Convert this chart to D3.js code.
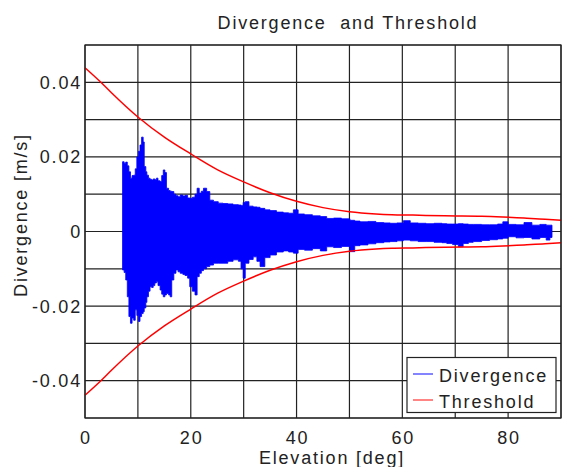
<!DOCTYPE html>
<html>
<head>
<meta charset="utf-8">
<script src="https://cdn.jsdelivr.net/npm/d3@7"></script>
<style>
  body { margin: 0; background: #fff; }
  text { font-family: "Liberation Sans", Arial, sans-serif; fill: #222; font-size: 18px; letter-spacing: 1.8px; }
</style>
</head>
<body>
<div id="chart"></div>
<script>
// DATA //

// threshold (symmetric, +/-)
const thrElev  = [0, 3, 5, 10, 15, 20, 25, 30, 35, 40, 45, 50, 55, 58, 62, 68, 75, 79, 83, 87, 90];
const thrValue = [0.0439, 0.0400, 0.0372, 0.0307, 0.0253, 0.0208, 0.0166, 0.0133, 0.0104, 0.0081,
                  0.0064, 0.0053, 0.0047, 0.0045, 0.0044, 0.0042, 0.0041, 0.0039, 0.0036, 0.0033, 0.0030];

// divergence: upper / lower envelope of the blue noise band
const divElev = [7.1, 7.4, 7.7, 8.0, 8.3, 8.6, 8.9, 9.2, 9.5, 9.8, 10.1, 10.4, 10.7, 11.0, 11.2, 11.5, 11.7,
  12.0, 12.3, 12.6, 12.9, 13.2, 13.5, 13.8, 14.2, 14.5, 14.8, 15.1, 15.4, 15.8, 16.1, 16.4, 16.8, 17.2,
  17.6, 18.0, 18.5, 18.9, 19.4, 19.8, 20.3, 20.8, 21.2, 21.6, 22.0, 22.4, 23.0, 23.6, 24.3, 25.2, 26.1,
  27.0, 28.0, 29.0, 29.5, 29.9, 30.3, 31.0, 31.8, 32.5, 33.1, 34.0, 35.0, 36.2, 37.5, 38.5, 39.4, 40.3,
  41.5, 43.0, 44.5, 45.7, 47.0, 48.5, 50.1, 51.0, 52.0, 53.5, 55.0, 56.5, 57.7, 59.0, 60.2, 61.5, 63.0,
  64.5, 66.0, 67.5, 68.4, 69.5, 70.6, 71.5, 72.5, 73.4, 75.0, 76.5, 78.0, 79.0, 80.0, 81.5, 83.0, 84.5,
  86.0, 87.2, 87.9, 88.3];
const divUpper = [0.0187, 0.0183, 0.0186, 0.0176, 0.0160, 0.0143, 0.0150, 0.0151, 0.0168, 0.0200, 0.0215,
  0.0232, 0.0253, 0.0240, 0.0174, 0.0160, 0.0151, 0.0143, 0.0140, 0.0138, 0.0141, 0.0139, 0.0143, 0.0136,
  0.0134, 0.0150, 0.0165, 0.0158, 0.0116, 0.0110, 0.0108, 0.0107, 0.0100, 0.0096, 0.0093, 0.0098, 0.0095,
  0.0097, 0.0090, 0.0089, 0.0092, 0.0100, 0.0116, 0.0103, 0.0108, 0.0116, 0.0107, 0.0084, 0.0080, 0.0076,
  0.0075, 0.0074, 0.0072, 0.0071, 0.0070, 0.0078, 0.0080, 0.0068, 0.0066, 0.0065, 0.0062, 0.0058, 0.0056,
  0.0052, 0.0050, 0.0049, 0.0058, 0.0047, 0.0045, 0.0042, 0.0040, 0.0035, 0.0036, 0.0034, 0.0030, 0.0028,
  0.0026, 0.0027, 0.0024, 0.0023, 0.0022, 0.0023, 0.0029, 0.0023, 0.0022, 0.0021, 0.0022, 0.0021, 0.0020,
  0.0020, 0.0021, 0.0020, 0.0019, 0.0019, 0.0018, 0.0018, 0.0020, 0.0026, 0.0019, 0.0018, 0.0024, 0.0017,
  0.0019, 0.0017, 0.0017, 0.0017];
const divLower = [-0.0103, -0.0110, -0.0130, -0.0175, -0.0228, -0.0246, -0.0232, -0.0238, -0.0210, -0.0225,
  -0.0241, -0.0228, -0.0220, -0.0215, -0.0205, -0.0190, -0.0175, -0.0160, -0.0148, -0.0150, -0.0145, -0.0138,
  -0.0135, -0.0145, -0.0157, -0.0168, -0.0175, -0.0170, -0.0166, -0.0170, -0.0175, -0.0130, -0.0112, -0.0103,
  -0.0108, -0.0112, -0.0115, -0.0118, -0.0125, -0.0148, -0.0160, -0.0170, -0.0121, -0.0112, -0.0105, -0.0100,
  -0.0094, -0.0090, -0.0085, -0.0085, -0.0085, -0.0080, -0.0076, -0.0080, -0.0100, -0.0125, -0.0085, -0.0075,
  -0.0068, -0.0080, -0.0094, -0.0070, -0.0063, -0.0055, -0.0052, -0.0055, -0.0058, -0.0048, -0.0050, -0.0046,
  -0.0052, -0.0041, -0.0043, -0.0040, -0.0054, -0.0038, -0.0036, -0.0033, -0.0030, -0.0028, -0.0027, -0.0025,
  -0.0023, -0.0025, -0.0027, -0.0027, -0.0029, -0.0030, -0.0032, -0.0035, -0.0041, -0.0032, -0.0029, -0.0027,
  -0.0024, -0.0022, -0.0020, -0.0018, -0.0014, -0.0017, -0.0016, -0.0020, -0.0016, -0.0023, -0.0016, -0.0016];

const xGrid = d3.range(0, 91, 10);
const xLabels = [0, 20, 40, 60, 80];
const yGrid = [-0.05, -0.04, -0.03, -0.02, -0.01, 0, 0.01, 0.02, 0.03, 0.04, 0.05];
const yLabels = [-0.04, -0.02, 0, 0.02, 0.04];
const seriesNames = ["Divergence", "Threshold"];
const seriesColors = ["#0000ff", "#ff0000"];

// DIMENSIONS //

const W = 562, H = 467;
const margin = {top: 45, left: 85, right: 1, bottom: 49};
const width = W - margin.left - margin.right,
      height = H - margin.top - margin.bottom;

const svg = d3.select("#chart").append("svg")
    .attr("width", W).attr("height", H);

const g = svg.append("g")
    .attr("transform", "translate(" + margin.left + "," + margin.top + ")");

const x = d3.scaleLinear().domain([0, 90]).range([0, width]);
const y = d3.scaleLinear().domain([-0.05, 0.05]).range([height, 0]);

// GRID //

g.append("g").selectAll("line").data(xGrid).enter().append("line")
    .attr("x1", d => x(d)).attr("x2", d => x(d))
    .attr("y1", 0).attr("y2", height)
    .attr("stroke", "#222").attr("stroke-width", 1.2);

g.append("g").selectAll("line").data(yGrid).enter().append("line")
    .attr("x1", 0).attr("x2", width)
    .attr("y1", d => y(d)).attr("y2", d => y(d))
    .attr("stroke", "#222").attr("stroke-width", 1.2);

// tick labels
const fmt = d => d === 0 ? "0" : d3.format(".2f")(d).replace("−", "-");

g.append("g").selectAll("text").data(yLabels).enter().append("text")
    .attr("x", -3).attr("y", d => y(d)).attr("dy", "0.36em")
    .attr("text-anchor", "end")
    .text(fmt);

g.append("g").selectAll("text").data(xLabels).enter().append("text")
    .attr("x", d => x(d) + 0.9).attr("y", height + 26)
    .attr("text-anchor", "middle")
    .text(d => d);

// DIVERGENCE BAND //

const divData = divElev.map((e, i) => ({e: e, hi: divUpper[i], lo: divLower[i]}));

g.append("path")
    .datum(divData)
    .attr("fill", seriesColors[0])
    .attr("stroke", seriesColors[0])
    .attr("stroke-width", 0.8)
    .attr("d", d3.area()
        .x(d => x(d.e))
        .y0(d => y(d.lo))
        .y1(d => y(d.hi))
        .curve(d3.curveStepAfter));

// THRESHOLD //

const thrData = thrElev.map((e, i) => ({e: e, v: thrValue[i]}));
[1, -1].forEach(sign => {
  g.append("path")
      .datum(thrData)
      .attr("fill", "none")
      .attr("stroke", seriesColors[1])
      .attr("stroke-width", 1.5)
      .attr("d", d3.line()
          .x(d => x(d.e))
          .y(d => y(sign * d.v))
          .curve(d3.curveMonotoneX));
});

// border
g.append("rect")
    .attr("width", width).attr("height", height)
    .attr("fill", "none").attr("stroke", "#222").attr("stroke-width", 1.2);

// TITLES //

svg.append("text")
    .attr("x", 348).attr("y", 29)
    .attr("text-anchor", "middle")
    .style("white-space", "pre")
    .text("Divergence  and Threshold");

svg.append("text")
    .attr("x", 332).attr("y", 464)
    .attr("text-anchor", "middle")
    .text("Elevation [deg]");

svg.append("text")
    .attr("transform", "translate(26.5,215) rotate(-90)")
    .attr("text-anchor", "middle")
    .text("Divergence [m/s]");

// LEGEND //

const legend = svg.append("g");
legend.append("rect")
    .attr("x", 407).attr("y", 357.5)
    .attr("width", 149).attr("height", 55)
    .attr("fill", "#fff").attr("stroke", "#222").attr("stroke-width", 1.2);

seriesNames.forEach((name, i) => {
  const ly = 374 + i * 26;
  legend.append("line")
      .attr("x1", 413).attr("x2", 433)
      .attr("y1", ly).attr("y2", ly)
      .attr("stroke", seriesColors[i]).attr("stroke-width", 1.2)
      .attr("opacity", 0.8);
  legend.append("text")
      .attr("x", 439).attr("y", ly + 7.5)
      .text(name);
});
</script>
</body>
</html>
